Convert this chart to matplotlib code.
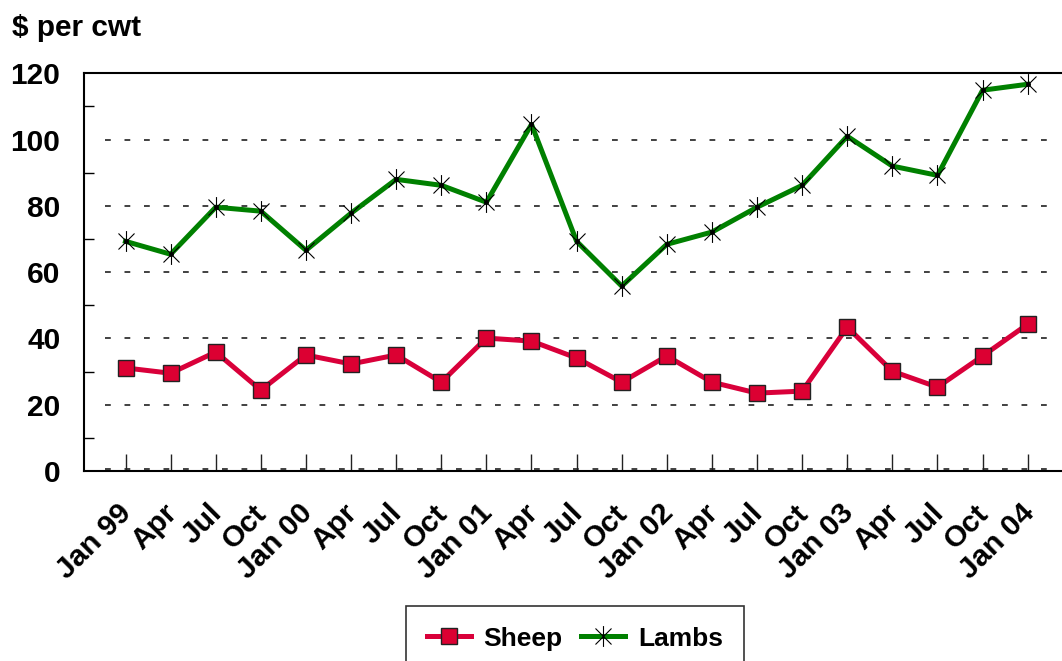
import numpy as np
import matplotlib
matplotlib.use('Agg')
import matplotlib.pyplot as plt
import matplotlib.transforms as mtransforms
from matplotlib.path import Path

plt.rcParams['font.family'] = ['Liberation Sans', 'DejaVu Sans']
plt.rcParams['font.weight'] = 'bold'

# Quarterly prices, $ per cwt
quarters = ['Jan 99', 'Apr', 'Jul', 'Oct', 'Jan 00', 'Apr', 'Jul', 'Oct',
            'Jan 01', 'Apr', 'Jul', 'Oct', 'Jan 02', 'Apr', 'Jul', 'Oct',
            'Jan 03', 'Apr', 'Jul', 'Oct', 'Jan 04']
sheep = [31.1, 29.5, 35.9, 24.4, 35.0, 32.3, 35.0, 26.8, 40.1, 39.2, 34.1,
         26.8, 34.7, 26.8, 23.5, 24.1, 43.4, 30.1, 25.3, 34.7, 44.3]
lambs = [69.3, 65.4, 79.6, 78.4, 66.6, 77.8, 88.0, 86.2, 81.1, 104.6, 69.3,
         55.8, 68.4, 72.1, 79.6, 86.2, 101.0, 92.0, 89.2, 114.9, 116.7]

x = np.arange(len(quarters))

# asterisk marker: an X with a vertical bar through it
star = Path([(-1, -1), (1, 1), (-1, 1), (1, -1), (0, -1.3), (0, 1.3)],
            [Path.MOVETO, Path.LINETO, Path.MOVETO, Path.LINETO,
             Path.MOVETO, Path.LINETO])

fig = plt.figure(figsize=(10.62, 6.61), dpi=100)
ax = fig.add_axes([84 / 1062, 1 - 471 / 661, 1 - 84 / 1062, (471 - 73.3) / 661])

# dashed guide lines at the labelled values
for yv in range(0, 120, 20):
    ax.plot([-0.46, 20.5], [yv + 0.5 if yv == 0 else yv] * 2, color='#333333',
            lw=1.3, dashes=(3.2, 7.6), zorder=1)

ax.plot(x, sheep, color='#d9003a', lw=3.6, marker='s', markersize=11,
        markerfacecolor='#dc0032', markeredgecolor='#222222',
        markeredgewidth=1.0, label='Sheep', zorder=3)
ax.plot(x, lambs, color='#008000', lw=3.6, marker=star, markersize=15,
        markeredgecolor='black', markerfacecolor='black',
        markeredgewidth=0.8, label='Lambs', zorder=3)
ax.plot(x, lambs, ls='none', marker='o', markersize=2.5, color='black', zorder=4)

ax.set_xlim(-0.92, 20.76)
ax.set_ylim(0, 120)

ax.set_yticks(range(0, 121, 20))
ax.set_yticks(range(10, 120, 20), minor=True)
ax.tick_params(axis='y', which='major', length=0, pad=17, labelsize=21.5)
ax.tick_params(axis='y', which='minor', direction='in', length=7, width=1)

ax.set_xticks(x)
ax.set_xticklabels(quarters, rotation=45, ha='right', rotation_mode='anchor',
                   fontsize=21.5)
ax.tick_params(axis='x', direction='in', length=12, width=1, pad=20,
               color='#222222')
shift = mtransforms.ScaledTranslation(-8 / 100, 0, fig.dpi_scale_trans)
for lbl in ax.get_xticklabels():
    lbl.set_fontweight('bold')
    lbl.set_transform(lbl.get_transform() + shift)
for lbl in ax.get_yticklabels():
    lbl.set_fontweight('bold')

ax.spines['right'].set_visible(False)
for s in ('top', 'bottom', 'left'):
    ax.spines[s].set_linewidth(1.5)
    ax.spines[s].set_color('black')

fig.text(12 / 1062, 1 - 36 / 661, '$ per cwt', fontsize=21.5, fontweight='bold')

leg = fig.legend(loc='upper center', bbox_to_anchor=(575 / 1062, 1 - 606 / 661),
                 ncol=2, fontsize=19, frameon=True, fancybox=False,
                 edgecolor='black', handlelength=1.65, handletextpad=0.5,
                 columnspacing=0.7, borderpad=0.78, borderaxespad=0)
leg.get_frame().set_linewidth(1.2)

fig.savefig('out.png', dpi=100)
